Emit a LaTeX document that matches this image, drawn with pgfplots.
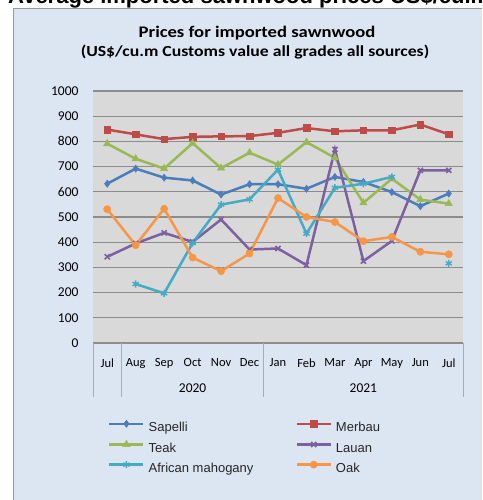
\documentclass[border=0pt]{standalone}
\usepackage{fontspec}
\setmainfont{Carlito}
\newfontfamily\arialf{Liberation Sans}
\newfontfamily\titlef[FakeStretch=1.15]{Carlito}
\usepackage{pgfplots}
\pgfplotsset{compat=1.18}
\definecolor{chartbg}{HTML}{DCE6F2}
\definecolor{plotbg}{HTML}{D9D9D9}
\definecolor{gridc}{HTML}{8C8C8C}
\definecolor{cSap}{HTML}{4A7EBB}
\definecolor{cMer}{HTML}{BE4B48}
\definecolor{cTeak}{HTML}{98B954}
\definecolor{cLau}{HTML}{7D60A0}
\definecolor{cAfr}{HTML}{46AAC5}
\definecolor{cOak}{HTML}{F79646}
\begin{document}
\begin{tikzpicture}[x=1pt,y=1pt]
\useasboundingbox (0,0) rectangle (482,500);
\fill[chartbg] (13,0) rectangle (482,492);
\draw[gray!80, line width=1pt] (13.5,0) -- (13.5,491.5) -- (482,491.5);
\begin{scope}
\clip (0,0) rectangle (482,500);
\node[anchor=base west, inner sep=0, font=\arialf\bfseries\fontsize{22}{26}\selectfont] at (8,496) {Average imported sawnwood prices US\$/cu.m};
\end{scope}
\node[font=\titlef\bfseries\fontsize{16.2}{20}\selectfont] at (257,467) {Prices for imported sawnwood};
\node[font=\titlef\bfseries\fontsize{15.4}{20}\selectfont] at (255,448) {(US\$/cu.m Customs value all grades all sources)};
\begin{axis}[
  at={(93pt,157pt)}, anchor=south west,
  width=370pt, height=252pt, scale only axis,
  xmin=-0.5, xmax=12.5, ymin=0, ymax=1000,
  ytick={0,100,...,1000},
  xtick={0,...,12},
  xticklabels={Jul,Aug,Sep,Oct,Nov,Dec,Jan,Feb,Mar,Apr,May,Jun,Jul},
  major tick length=0pt,
  axis line style={draw=none},
  ymajorgrids, major grid style={gridc, line width=1.2pt},
  axis background/.style={fill=plotbg},
  clip=false,
  unbounded coords=jump,
  /pgf/number format/assume math mode=true,
  /pgf/number format/1000 sep={},
  yticklabel style={font=\fontsize{13.5}{16}\selectfont, anchor=east, xshift=-11pt},
  xticklabel style={font=\fontsize{12.5}{14}\selectfont, yshift=-12pt},
  every axis plot/.append style={line width=2.5pt},
  legend columns=2,
  legend cell align=left,
  legend style={at={(axis description cs:0.0405,-0.3056)}, anchor=north west, draw=none, fill=none, inner sep=0pt,
    font=\arialf\fontsize{13}{16}\selectfont, text=black!85,
    nodes={inner sep=0pt, text height=10pt, text depth=3pt},
    row sep=6pt,
    /tikz/every odd column/.append style={column sep=4pt},
    /tikz/every even column/.append style={column sep=42pt}},
  legend image code/.code={\draw[mark repeat=2, mark phase=2, #1] plot coordinates {(0pt,4pt) (17pt,4pt) (34pt,4pt)};},
]
\addplot[cSap, mark=diamond*, mark size=3.6pt, mark options={solid, line width=0.5pt}] coordinates {
(0,632) (1,692) (2,656) (3,645) (4,589) (5,630) (6,630) (7,612) (8,659) (9,639) (10,599) (11,543) (12,593)};
\addlegendentry{Sapelli}
\addplot[cMer, mark=square*, mark size=3.3pt, mark options={solid, line width=0.5pt}] coordinates {
(0,847) (1,828) (2,809) (3,818) (4,820) (5,821) (6,834) (7,853) (8,840) (9,844) (10,844) (11,867) (12,828)};
\addlegendentry{Merbau}
\addplot[cTeak, mark=triangle*, mark size=4.2pt, mark options={solid, line width=0.5pt}] coordinates {
(0,791) (1,731) (2,692) (3,793) (4,694) (5,755) (6,708) (7,797) (8,735) (9,556) (10,652) (11,569) (12,553)};
\addlegendentry{Teak}
\addplot[cLau, mark=x, mark size=3.6pt, mark options={solid, line width=1.6pt}] coordinates {
(0,342) (1,395) (2,437) (3,401) (4,490) (5,371) (6,375) (7,309) (8,768) (9,325) (10,405) (11,685) (12,685)};
\addlegendentry{Lauan}
\addplot[cAfr, mark=asterisk, mark size=3.6pt, mark options={solid, line width=1.4pt}] coordinates {
(1,234) (2,197) (3,397) (4,549) (5,570) (6,688) (7,434) (8,616) (9,632) (10,659) (11,nan) (12,316)};
\addlegendentry{African mahogany}
\addplot[cOak, mark=*, mark size=3.6pt, mark options={solid, line width=0.5pt}] coordinates {
(0,531) (1,388) (2,533) (3,339) (4,285) (5,355) (6,575) (7,500) (8,480) (9,404) (10,421) (11,362) (12,352)};
\addlegendentry{Oak}
\draw[gray!65, line width=1pt] (axis cs:-0.5,0) -- ([yshift=-54pt]axis cs:-0.5,0);
\draw[gray!65, line width=1pt] (axis cs:0.5,0) -- ([yshift=-54pt]axis cs:0.5,0);
\draw[gray!65, line width=1pt] (axis cs:5.5,0) -- ([yshift=-54pt]axis cs:5.5,0);
\draw[gray!65, line width=1pt] (axis cs:12.5,0) -- ([yshift=-54pt]axis cs:12.5,0);
\node[font=\fontsize{13.5}{16}\selectfont, yshift=-45pt] at (axis cs:3,0) {2020};
\node[font=\fontsize{13.5}{16}\selectfont, yshift=-45pt] at (axis cs:9,0) {2021};
\end{axis}
\end{tikzpicture}
\end{document}
